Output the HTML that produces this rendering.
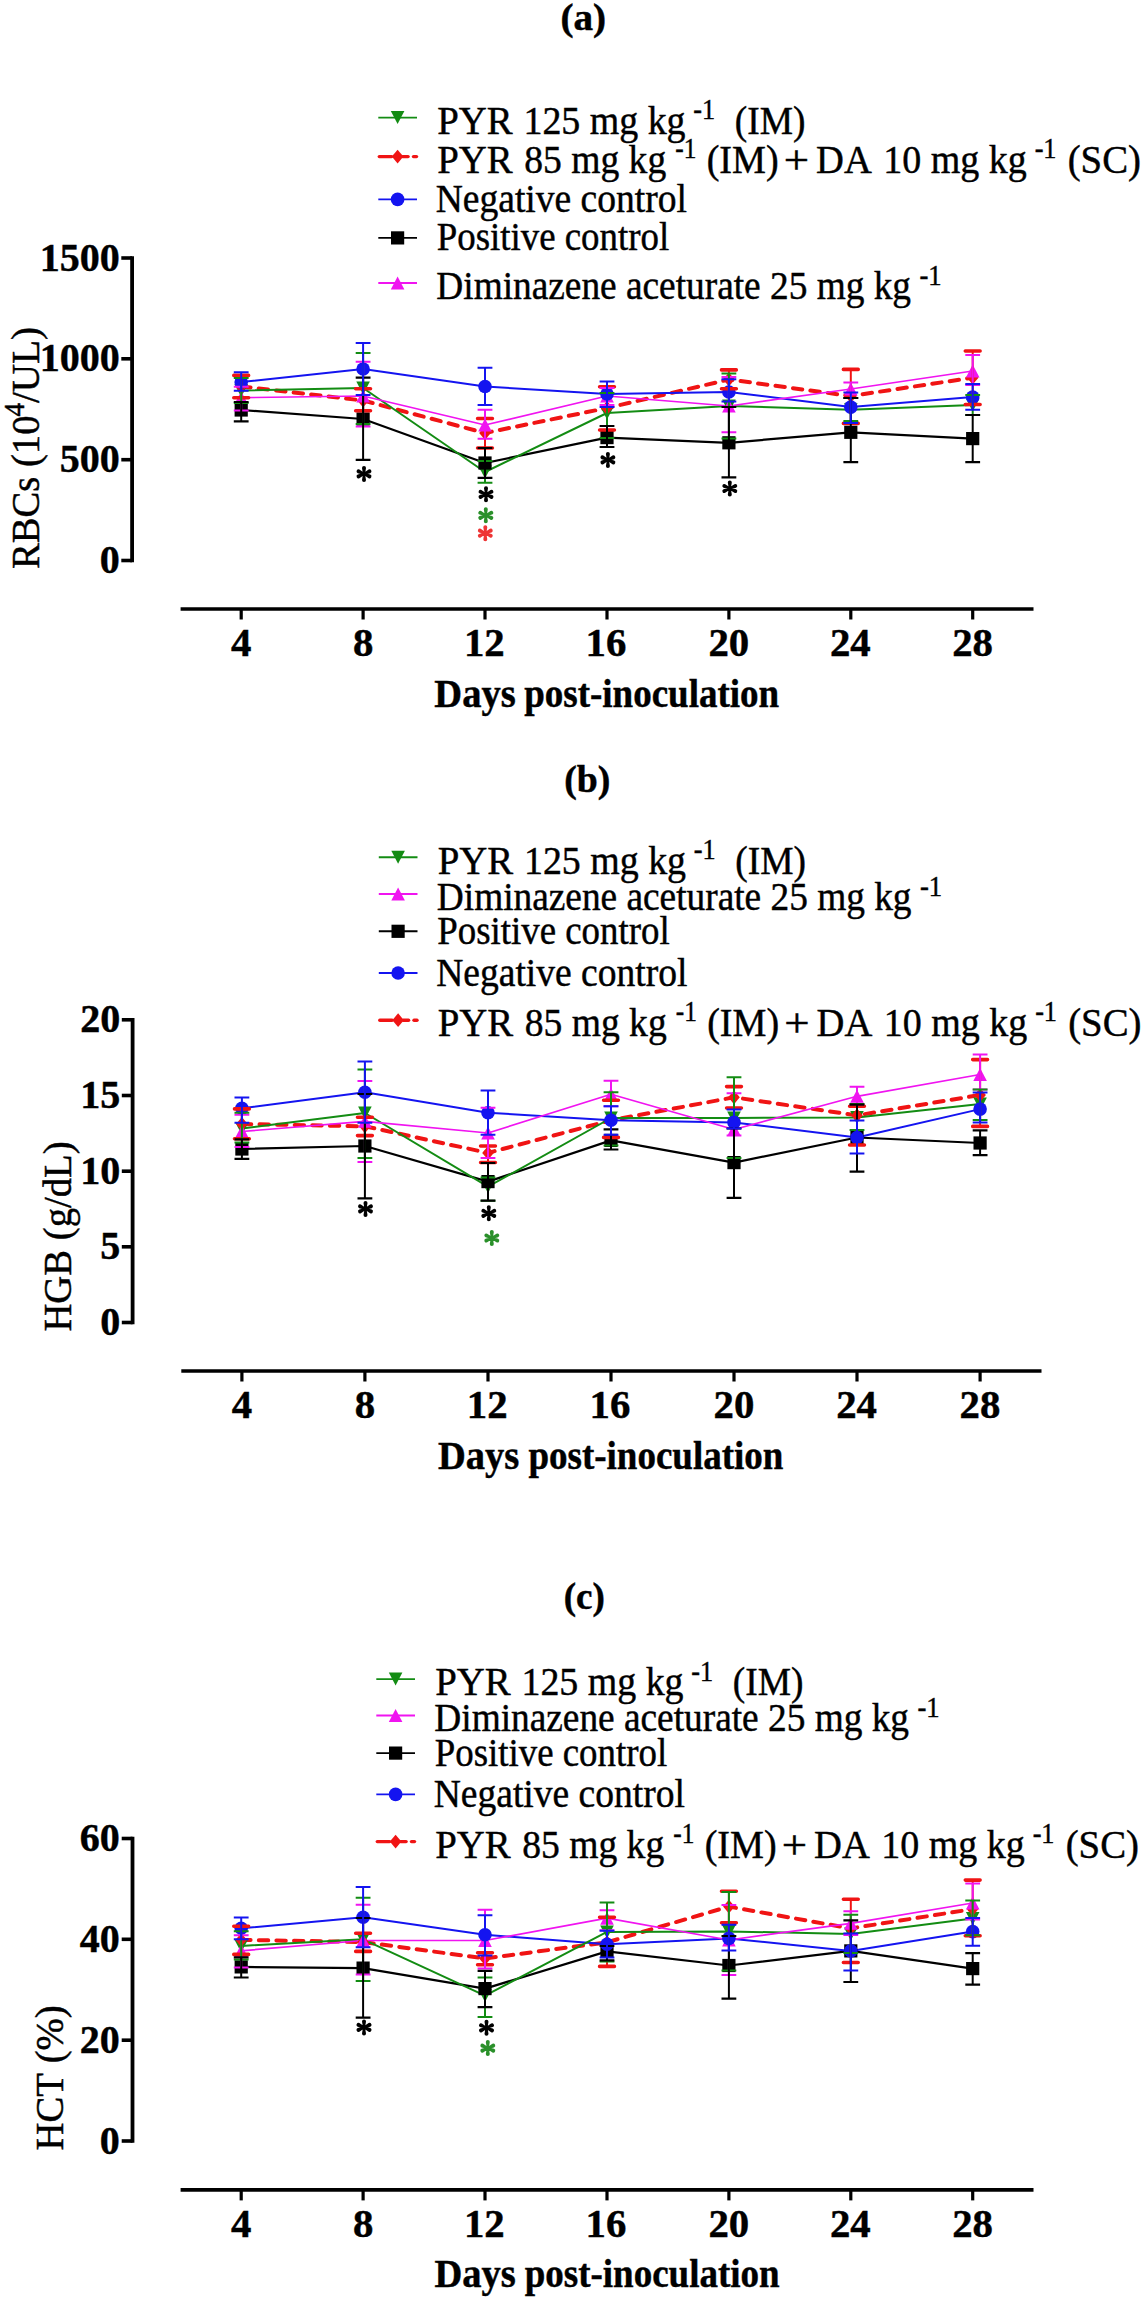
<!DOCTYPE html><html><head><meta charset="utf-8"><title>Hematology charts</title><style>html,body{margin:0;padding:0;background:#fff;overflow:hidden;}svg{display:block;}text{font-family:"Liberation Serif", serif;fill:#000;font-kerning:none;stroke:#000;stroke-width:0.45px;}</style></head><body>
<svg width="1144" height="2300" viewBox="0 0 1144 2300">
<rect width="1144" height="2300" fill="#fff"/>
<line x1="132.1" y1="256.3" x2="132.1" y2="562.2" stroke="#000" stroke-width="3.8"/>
<line x1="121.3" y1="258.0" x2="132.1" y2="258.0" stroke="#000" stroke-width="3.6"/>
<text x="39.72" y="270.60" font-size="40.0" font-weight="bold">1500</text>
<line x1="121.3" y1="358.8" x2="132.1" y2="358.8" stroke="#000" stroke-width="3.6"/>
<text x="39.72" y="371.40" font-size="40.0" font-weight="bold">1000</text>
<line x1="121.3" y1="459.7" x2="132.1" y2="459.7" stroke="#000" stroke-width="3.6"/>
<text x="59.72" y="472.30" font-size="40.0" font-weight="bold">500</text>
<line x1="121.3" y1="560.5" x2="132.1" y2="560.5" stroke="#000" stroke-width="3.6"/>
<text x="99.72" y="573.10" font-size="40.0" font-weight="bold">0</text>
<line x1="180.6" y1="609" x2="1033.5" y2="609" stroke="#000" stroke-width="3.6"/>
<line x1="241.2" y1="609" x2="241.2" y2="619.5" stroke="#000" stroke-width="3.2"/>
<text x="231.10" y="656.00" font-size="40.8" font-weight="bold">4</text>
<line x1="363.1" y1="609" x2="363.1" y2="619.5" stroke="#000" stroke-width="3.2"/>
<text x="352.92" y="656.00" font-size="40.8" font-weight="bold">8</text>
<line x1="485.0" y1="609" x2="485.0" y2="619.5" stroke="#000" stroke-width="3.2"/>
<text x="463.88" y="656.00" font-size="40.8" font-weight="bold">12</text>
<line x1="607.0" y1="609" x2="607.0" y2="619.5" stroke="#000" stroke-width="3.2"/>
<text x="585.52" y="656.00" font-size="40.8" font-weight="bold">16</text>
<line x1="728.9" y1="609" x2="728.9" y2="619.5" stroke="#000" stroke-width="3.2"/>
<text x="708.40" y="656.00" font-size="40.8" font-weight="bold">20</text>
<line x1="850.8" y1="609" x2="850.8" y2="619.5" stroke="#000" stroke-width="3.2"/>
<text x="829.92" y="656.00" font-size="40.8" font-weight="bold">24</text>
<line x1="972.7" y1="609" x2="972.7" y2="619.5" stroke="#000" stroke-width="3.2"/>
<text x="952.14" y="656.00" font-size="40.8" font-weight="bold">28</text>
<text x="434.32" y="706.80" font-size="40.0" font-weight="bold" textLength="81.32" lengthAdjust="spacingAndGlyphs">Days</text>
<text x="524.23" y="706.80" font-size="40.0" font-weight="bold" textLength="254.93" lengthAdjust="spacingAndGlyphs">post-inoculation</text>
<text x="560.48" y="30.40" font-size="38.0" font-weight="bold" textLength="45.64" lengthAdjust="spacingAndGlyphs">(a)</text>
<g transform="translate(39.20,568.00) rotate(-90)">
<text x="-1.11" y="0.00" font-size="40.3" textLength="153.59" lengthAdjust="spacingAndGlyphs">RBCs (10</text>
<text x="151.47" y="-15.30" font-size="29" textLength="13.55" lengthAdjust="spacingAndGlyphs">4</text>
<text x="165.00" y="0.00" font-size="40.3" textLength="76.02" lengthAdjust="spacingAndGlyphs">/UL)</text>
</g>
<line x1="378.3" y1="117.6" x2="417.0" y2="117.6" stroke="#138c13" stroke-width="1.9"/>
<path d="M390.8,111.1 L404.4,111.1 L397.6,124.1 Z" fill="#138c13"/>
<text x="437.18" y="133.60" font-size="40.3" textLength="75.47" lengthAdjust="spacingAndGlyphs">PYR</text>
<text x="523.47" y="133.60" font-size="40.3" textLength="162.05" lengthAdjust="spacingAndGlyphs">125 mg kg</text>
<text x="693.23" y="118.80" font-size="29" textLength="21.85" lengthAdjust="spacingAndGlyphs">-1</text>
<text x="734.86" y="133.60" font-size="40.3" textLength="70.59" lengthAdjust="spacingAndGlyphs">(IM)</text>
<line x1="379.3" y1="156.6" x2="391.6" y2="156.6" stroke="#f01414" stroke-width="3.4" stroke-linecap="round"/>
<line x1="402.6" y1="156.6" x2="408.1" y2="156.6" stroke="#f01414" stroke-width="3.4" stroke-linecap="round"/>
<line x1="413.5" y1="156.6" x2="416.5" y2="156.6" stroke="#f01414" stroke-width="3.4" stroke-linecap="round"/>
<path d="M397.6,149.7 L403.4,156.6 L397.6,163.5 L391.8,156.6 Z" fill="#f01414"/>
<text x="437.18" y="173.00" font-size="40.3" textLength="75.47" lengthAdjust="spacingAndGlyphs">PYR</text>
<text x="524.17" y="173.00" font-size="40.3" textLength="142.05" lengthAdjust="spacingAndGlyphs">85 mg kg</text>
<text x="675.26" y="158.20" font-size="29" textLength="21.06" lengthAdjust="spacingAndGlyphs">-1</text>
<text x="706.63" y="173.00" font-size="40.3" textLength="71.95" lengthAdjust="spacingAndGlyphs">(IM)</text>
<text x="783.86" y="173.00" font-size="40.3" textLength="25.33" lengthAdjust="spacingAndGlyphs">+</text>
<text x="816.09" y="173.00" font-size="40.3" textLength="55.69" lengthAdjust="spacingAndGlyphs">DA</text>
<text x="883.26" y="173.00" font-size="40.3" textLength="143.46" lengthAdjust="spacingAndGlyphs">10 mg kg</text>
<text x="1034.63" y="158.20" font-size="29" textLength="21.85" lengthAdjust="spacingAndGlyphs">-1</text>
<text x="1067.69" y="173.00" font-size="40.3" textLength="73.31" lengthAdjust="spacingAndGlyphs">(SC)</text>
<line x1="378.3" y1="199.4" x2="417.0" y2="199.4" stroke="#1414f0" stroke-width="1.9"/>
<circle cx="397.6" cy="199.4" r="6.8" fill="#1414f0"/>
<text x="435.72" y="212.10" font-size="40.3" textLength="251.13" lengthAdjust="spacingAndGlyphs">Negative control</text>
<line x1="378.3" y1="237.9" x2="417.0" y2="237.9" stroke="#000000" stroke-width="1.9"/>
<rect x="391.0" y="231.3" width="13.2" height="13.2" fill="#000000"/>
<text x="436.84" y="250.00" font-size="40.3" textLength="232.30" lengthAdjust="spacingAndGlyphs">Positive control</text>
<line x1="378.3" y1="283.0" x2="417.0" y2="283.0" stroke="#f014f0" stroke-width="1.9"/>
<path d="M390.8,289.5 L404.4,289.5 L397.6,276.5 Z" fill="#f014f0"/>
<text x="436.32" y="299.30" font-size="40.3" textLength="474.69" lengthAdjust="spacingAndGlyphs">Diminazene aceturate 25 mg kg</text>
<text x="919.51" y="284.50" font-size="29" textLength="22.19" lengthAdjust="spacingAndGlyphs">-1</text>
<polyline points="241.2,386.5 363.1,400.5 485.0,433.0 607.0,408.0 728.9,379.5 850.8,396.0 972.7,377.7" fill="none" stroke="#f01414" stroke-width="4.0" stroke-linejoin="round" stroke-dasharray="9.4 8.2" stroke-linecap="round"/>
<polyline points="241.2,410.0 363.1,419.0 485.0,463.0 607.0,437.6 728.9,442.8 850.8,432.3 972.7,438.6" fill="none" stroke="#000000" stroke-width="2.2" stroke-linejoin="round"/>
<polyline points="241.2,382.0 363.1,369.0 485.0,386.5 607.0,394.0 728.9,392.0 850.8,407.1 972.7,397.1" fill="none" stroke="#1414f0" stroke-width="2.0" stroke-linejoin="round"/>
<polyline points="241.2,390.5 363.1,388.0 485.0,472.0 607.0,413.0 728.9,406.0 850.8,409.8 972.7,405.0" fill="none" stroke="#138c13" stroke-width="2.0" stroke-linejoin="round"/>
<polyline points="241.2,397.7 363.1,396.0 485.0,425.0 607.0,396.0 728.9,406.0 850.8,389.0 972.7,371.0" fill="none" stroke="#f014f0" stroke-width="1.7" stroke-linejoin="round"/>
<path d="M234.4,384.0 L248.0,384.0 L241.2,397.0 Z" fill="#138c13"/>
<path d="M356.3,381.5 L369.9,381.5 L363.1,394.5 Z" fill="#138c13"/>
<path d="M478.2,465.5 L491.8,465.5 L485.0,478.5 Z" fill="#138c13"/>
<path d="M600.2,406.5 L613.8,406.5 L607.0,419.5 Z" fill="#138c13"/>
<path d="M722.1,399.5 L735.7,399.5 L728.9,412.5 Z" fill="#138c13"/>
<path d="M844.0,403.3 L857.6,403.3 L850.8,416.3 Z" fill="#138c13"/>
<path d="M965.9,398.5 L979.5,398.5 L972.7,411.5 Z" fill="#138c13"/>
<path d="M241.2,379.6 L247.0,386.5 L241.2,393.4 L235.4,386.5 Z" fill="#f01414"/>
<path d="M363.1,393.6 L368.9,400.5 L363.1,407.4 L357.3,400.5 Z" fill="#f01414"/>
<path d="M485.0,426.1 L490.8,433.0 L485.0,439.9 L479.2,433.0 Z" fill="#f01414"/>
<path d="M607.0,401.1 L612.8,408.0 L607.0,414.9 L601.2,408.0 Z" fill="#f01414"/>
<path d="M728.9,372.6 L734.7,379.5 L728.9,386.4 L723.1,379.5 Z" fill="#f01414"/>
<path d="M850.8,389.1 L856.6,396.0 L850.8,402.9 L845.0,396.0 Z" fill="#f01414"/>
<path d="M972.7,370.8 L978.5,377.7 L972.7,384.6 L966.9,377.7 Z" fill="#f01414"/>
<path d="M234.4,404.2 L248.0,404.2 L241.2,391.2 Z" fill="#f014f0"/>
<path d="M356.3,402.5 L369.9,402.5 L363.1,389.5 Z" fill="#f014f0"/>
<path d="M478.2,431.5 L491.8,431.5 L485.0,418.5 Z" fill="#f014f0"/>
<path d="M600.2,402.5 L613.8,402.5 L607.0,389.5 Z" fill="#f014f0"/>
<path d="M722.1,412.5 L735.7,412.5 L728.9,399.5 Z" fill="#f014f0"/>
<path d="M844.0,395.5 L857.6,395.5 L850.8,382.5 Z" fill="#f014f0"/>
<path d="M965.9,377.5 L979.5,377.5 L972.7,364.5 Z" fill="#f014f0"/>
<rect x="234.6" y="403.4" width="13.2" height="13.2" fill="#000000"/>
<rect x="356.5" y="412.4" width="13.2" height="13.2" fill="#000000"/>
<rect x="478.4" y="456.4" width="13.2" height="13.2" fill="#000000"/>
<rect x="600.4" y="431.0" width="13.2" height="13.2" fill="#000000"/>
<rect x="722.3" y="436.2" width="13.2" height="13.2" fill="#000000"/>
<rect x="844.2" y="425.7" width="13.2" height="13.2" fill="#000000"/>
<rect x="966.1" y="432.0" width="13.2" height="13.2" fill="#000000"/>
<circle cx="241.2" cy="382.0" r="6.8" fill="#1414f0"/>
<circle cx="363.1" cy="369.0" r="6.8" fill="#1414f0"/>
<circle cx="485.0" cy="386.5" r="6.8" fill="#1414f0"/>
<circle cx="607.0" cy="394.0" r="6.8" fill="#1414f0"/>
<circle cx="728.9" cy="392.0" r="6.8" fill="#1414f0"/>
<circle cx="850.8" cy="407.1" r="6.8" fill="#1414f0"/>
<circle cx="972.7" cy="397.1" r="6.8" fill="#1414f0"/>
<path d="M241.2,375.4V397.7" stroke="#f01414" stroke-width="2"/>
<path d="M233.8,375.4h14.8M233.8,397.7h14.8" stroke="#f01414" stroke-width="3.6" stroke-linecap="round"/>
<path d="M363.1,388.7V410.8" stroke="#f01414" stroke-width="2"/>
<path d="M355.7,388.7h14.8M355.7,410.8h14.8" stroke="#f01414" stroke-width="3.6" stroke-linecap="round"/>
<path d="M485.0,418.5V448.0" stroke="#f01414" stroke-width="2"/>
<path d="M477.6,418.5h14.8M477.6,448.0h14.8" stroke="#f01414" stroke-width="3.6" stroke-linecap="round"/>
<path d="M607.0,386.7V430.0" stroke="#f01414" stroke-width="2"/>
<path d="M599.6,386.7h14.8M599.6,430.0h14.8" stroke="#f01414" stroke-width="3.6" stroke-linecap="round"/>
<path d="M728.9,369.9V388.8" stroke="#f01414" stroke-width="2"/>
<path d="M721.5,369.9h14.8M721.5,388.8h14.8" stroke="#f01414" stroke-width="3.6" stroke-linecap="round"/>
<path d="M850.8,369.4V423.4" stroke="#f01414" stroke-width="2"/>
<path d="M843.4,369.4h14.8M843.4,423.4h14.8" stroke="#f01414" stroke-width="3.6" stroke-linecap="round"/>
<path d="M972.7,351.0V404.5" stroke="#f01414" stroke-width="2"/>
<path d="M965.3,351.0h14.8M965.3,404.5h14.8" stroke="#f01414" stroke-width="3.6" stroke-linecap="round"/>
<path d="M241.2,386.8V410.4" stroke="#f014f0" stroke-width="2"/>
<path d="M233.8,386.8h14.8M233.8,410.4h14.8" stroke="#f014f0" stroke-width="2.0"/>
<path d="M363.1,361.7V426.6" stroke="#f014f0" stroke-width="2"/>
<path d="M355.7,361.7h14.8M355.7,426.6h14.8" stroke="#f014f0" stroke-width="2.0"/>
<path d="M485.0,409.8V438.7" stroke="#f014f0" stroke-width="2"/>
<path d="M477.6,409.8h14.8M477.6,438.7h14.8" stroke="#f014f0" stroke-width="2.0"/>
<path d="M607.0,388.0V405.0" stroke="#f014f0" stroke-width="2"/>
<path d="M599.6,388.0h14.8M599.6,405.0h14.8" stroke="#f014f0" stroke-width="2.0"/>
<path d="M728.9,377.0V432.3" stroke="#f014f0" stroke-width="2"/>
<path d="M721.5,377.0h14.8M721.5,432.3h14.8" stroke="#f014f0" stroke-width="2.0"/>
<path d="M850.8,382.5V398.0" stroke="#f014f0" stroke-width="2"/>
<path d="M843.4,382.5h14.8M843.4,398.0h14.8" stroke="#f014f0" stroke-width="2.0"/>
<path d="M972.7,355.0V385.0" stroke="#f014f0" stroke-width="2"/>
<path d="M965.3,355.0h14.8M965.3,385.0h14.8" stroke="#f014f0" stroke-width="2.0"/>
<path d="M241.2,378.0V403.0" stroke="#138c13" stroke-width="2"/>
<path d="M233.8,378.0h14.8M233.8,403.0h14.8" stroke="#138c13" stroke-width="2.0"/>
<path d="M363.1,353.0V424.0" stroke="#138c13" stroke-width="2"/>
<path d="M355.7,353.0h14.8M355.7,424.0h14.8" stroke="#138c13" stroke-width="2.0"/>
<path d="M485.0,461.0V482.7" stroke="#138c13" stroke-width="2"/>
<path d="M477.6,461.0h14.8M477.6,482.7h14.8" stroke="#138c13" stroke-width="2.0"/>
<path d="M607.0,393.0V438.0" stroke="#138c13" stroke-width="2"/>
<path d="M599.6,393.0h14.8M599.6,438.0h14.8" stroke="#138c13" stroke-width="2.0"/>
<path d="M728.9,373.4V438.6" stroke="#138c13" stroke-width="2"/>
<path d="M721.5,373.4h14.8M721.5,438.6h14.8" stroke="#138c13" stroke-width="2.0"/>
<path d="M850.8,398.0V421.0" stroke="#138c13" stroke-width="2"/>
<path d="M843.4,398.0h14.8M843.4,421.0h14.8" stroke="#138c13" stroke-width="2.0"/>
<path d="M972.7,395.0V415.0" stroke="#138c13" stroke-width="2"/>
<path d="M965.3,395.0h14.8M965.3,415.0h14.8" stroke="#138c13" stroke-width="2.0"/>
<path d="M241.2,402.0V421.3" stroke="#000000" stroke-width="2"/>
<path d="M233.8,402.0h14.8M233.8,421.3h14.8" stroke="#000000" stroke-width="2.2"/>
<path d="M363.1,377.6V459.8" stroke="#000000" stroke-width="2"/>
<path d="M355.7,377.6h14.8M355.7,459.8h14.8" stroke="#000000" stroke-width="2.2"/>
<path d="M485.0,448.0V477.9" stroke="#000000" stroke-width="2"/>
<path d="M477.6,448.0h14.8M477.6,477.9h14.8" stroke="#000000" stroke-width="2.2"/>
<path d="M607.0,426.0V447.0" stroke="#000000" stroke-width="2"/>
<path d="M599.6,426.0h14.8M599.6,447.0h14.8" stroke="#000000" stroke-width="2.2"/>
<path d="M728.9,407.0V477.4" stroke="#000000" stroke-width="2"/>
<path d="M721.5,407.0h14.8M721.5,477.4h14.8" stroke="#000000" stroke-width="2.2"/>
<path d="M850.8,398.0V462.2" stroke="#000000" stroke-width="2"/>
<path d="M843.4,398.0h14.8M843.4,462.2h14.8" stroke="#000000" stroke-width="2.2"/>
<path d="M972.7,415.0V462.2" stroke="#000000" stroke-width="2"/>
<path d="M965.3,415.0h14.8M965.3,462.2h14.8" stroke="#000000" stroke-width="2.2"/>
<path d="M241.2,372.3V390.7" stroke="#1414f0" stroke-width="2"/>
<path d="M233.8,372.3h14.8M233.8,390.7h14.8" stroke="#1414f0" stroke-width="2.0"/>
<path d="M363.1,343.0V394.9" stroke="#1414f0" stroke-width="2"/>
<path d="M355.7,343.0h14.8M355.7,394.9h14.8" stroke="#1414f0" stroke-width="2.0"/>
<path d="M485.0,367.8V405.0" stroke="#1414f0" stroke-width="2"/>
<path d="M477.6,367.8h14.8M477.6,405.0h14.8" stroke="#1414f0" stroke-width="2.0"/>
<path d="M607.0,381.4V407.1" stroke="#1414f0" stroke-width="2"/>
<path d="M599.6,381.4h14.8M599.6,407.1h14.8" stroke="#1414f0" stroke-width="2.0"/>
<path d="M728.9,379.3V401.4" stroke="#1414f0" stroke-width="2"/>
<path d="M721.5,379.3h14.8M721.5,401.4h14.8" stroke="#1414f0" stroke-width="2.0"/>
<path d="M850.8,392.4V422.9" stroke="#1414f0" stroke-width="2"/>
<path d="M843.4,392.4h14.8M843.4,422.9h14.8" stroke="#1414f0" stroke-width="2.0"/>
<path d="M972.7,384.0V409.7" stroke="#1414f0" stroke-width="2"/>
<path d="M965.3,384.0h14.8M965.3,409.7h14.8" stroke="#1414f0" stroke-width="2.0"/>
<path d="M365.00,473.90L366.00,467.90A2.0,2.0 0 1 0 362.00,467.90L363.00,473.90ZM363.00,473.90L362.00,479.90A2.0,2.0 0 1 0 366.00,479.90L365.00,473.90ZM364.42,474.81L370.28,473.18A2.0,2.0 0 1 0 368.59,469.55L363.58,472.99ZM364.42,472.99L359.41,469.55A2.0,2.0 0 1 0 357.72,473.18L363.58,474.81ZM363.58,474.81L368.59,478.25A2.0,2.0 0 1 0 370.28,474.62L364.42,472.99ZM363.58,472.99L357.72,474.62A2.0,2.0 0 1 0 359.41,478.25L364.42,474.81Z" fill="#000"/>
<path d="M487.00,494.30L488.00,488.30A2.0,2.0 0 1 0 484.00,488.30L485.00,494.30ZM485.00,494.30L484.00,500.30A2.0,2.0 0 1 0 488.00,500.30L487.00,494.30ZM486.42,495.21L492.28,493.58A2.0,2.0 0 1 0 490.59,489.95L485.58,493.39ZM486.42,493.39L481.41,489.95A2.0,2.0 0 1 0 479.72,493.58L485.58,495.21ZM485.58,495.21L490.59,498.65A2.0,2.0 0 1 0 492.28,495.02L486.42,493.39ZM485.58,493.39L479.72,495.02A2.0,2.0 0 1 0 481.41,498.65L486.42,495.21Z" fill="#000"/>
<path d="M608.90,459.90L609.90,453.90A2.0,2.0 0 1 0 605.90,453.90L606.90,459.90ZM606.90,459.90L605.90,465.90A2.0,2.0 0 1 0 609.90,465.90L608.90,459.90ZM608.32,460.81L614.18,459.18A2.0,2.0 0 1 0 612.49,455.55L607.48,458.99ZM608.32,458.99L603.31,455.55A2.0,2.0 0 1 0 601.62,459.18L607.48,460.81ZM607.48,460.81L612.49,464.25A2.0,2.0 0 1 0 614.18,460.62L608.32,458.99ZM607.48,458.99L601.62,460.62A2.0,2.0 0 1 0 603.31,464.25L608.32,460.81Z" fill="#000"/>
<path d="M730.80,488.50L731.80,482.50A2.0,2.0 0 1 0 727.80,482.50L728.80,488.50ZM728.80,488.50L727.80,494.50A2.0,2.0 0 1 0 731.80,494.50L730.80,488.50ZM730.22,489.41L736.08,487.78A2.0,2.0 0 1 0 734.39,484.15L729.38,487.59ZM730.22,487.59L725.21,484.15A2.0,2.0 0 1 0 723.52,487.78L729.38,489.41ZM729.38,489.41L734.39,492.85A2.0,2.0 0 1 0 736.08,489.22L730.22,487.59ZM729.38,487.59L723.52,489.22A2.0,2.0 0 1 0 725.21,492.85L730.22,489.41Z" fill="#000"/>
<path d="M486.80,515.30L487.80,509.30A2.0,2.0 0 1 0 483.80,509.30L484.80,515.30ZM484.80,515.30L483.80,521.30A2.0,2.0 0 1 0 487.80,521.30L486.80,515.30ZM486.22,516.21L492.08,514.58A2.0,2.0 0 1 0 490.39,510.95L485.38,514.39ZM486.22,514.39L481.21,510.95A2.0,2.0 0 1 0 479.52,514.58L485.38,516.21ZM485.38,516.21L490.39,519.65A2.0,2.0 0 1 0 492.08,516.02L486.22,514.39ZM485.38,514.39L479.52,516.02A2.0,2.0 0 1 0 481.21,519.65L486.22,516.21Z" fill="#2a902a"/>
<path d="M486.30,533.20L487.30,527.20A2.0,2.0 0 1 0 483.30,527.20L484.30,533.20ZM484.30,533.20L483.30,539.20A2.0,2.0 0 1 0 487.30,539.20L486.30,533.20ZM485.72,534.11L491.58,532.48A2.0,2.0 0 1 0 489.89,528.85L484.88,532.29ZM485.72,532.29L480.71,528.85A2.0,2.0 0 1 0 479.02,532.48L484.88,534.11ZM484.88,534.11L489.89,537.55A2.0,2.0 0 1 0 491.58,533.92L485.72,532.29ZM484.88,532.29L479.02,533.92A2.0,2.0 0 1 0 480.71,537.55L485.72,534.11Z" fill="#ee3535"/>
<line x1="132.6" y1="1018.1" x2="132.6" y2="1324.2" stroke="#000" stroke-width="3.8"/>
<line x1="121.8" y1="1019.8" x2="132.6" y2="1019.8" stroke="#000" stroke-width="3.6"/>
<text x="80.32" y="1032.40" font-size="40.0" font-weight="bold">20</text>
<line x1="121.8" y1="1095.5" x2="132.6" y2="1095.5" stroke="#000" stroke-width="3.6"/>
<text x="80.26" y="1108.10" font-size="40.0" font-weight="bold">15</text>
<line x1="121.8" y1="1171.2" x2="132.6" y2="1171.2" stroke="#000" stroke-width="3.6"/>
<text x="80.32" y="1183.80" font-size="40.0" font-weight="bold">10</text>
<line x1="121.8" y1="1246.8" x2="132.6" y2="1246.8" stroke="#000" stroke-width="3.6"/>
<text x="100.26" y="1259.40" font-size="40.0" font-weight="bold">5</text>
<line x1="121.8" y1="1322.5" x2="132.6" y2="1322.5" stroke="#000" stroke-width="3.6"/>
<text x="100.32" y="1335.10" font-size="40.0" font-weight="bold">0</text>
<line x1="181.3" y1="1371" x2="1041.5" y2="1371" stroke="#000" stroke-width="3.6"/>
<line x1="241.9" y1="1371" x2="241.9" y2="1381.5" stroke="#000" stroke-width="3.2"/>
<text x="231.80" y="1418.00" font-size="40.8" font-weight="bold">4</text>
<line x1="364.9" y1="1371" x2="364.9" y2="1381.5" stroke="#000" stroke-width="3.2"/>
<text x="354.73" y="1418.00" font-size="40.8" font-weight="bold">8</text>
<line x1="488.0" y1="1371" x2="488.0" y2="1381.5" stroke="#000" stroke-width="3.2"/>
<text x="466.80" y="1418.00" font-size="40.8" font-weight="bold">12</text>
<line x1="611.0" y1="1371" x2="611.0" y2="1381.5" stroke="#000" stroke-width="3.2"/>
<text x="589.55" y="1418.00" font-size="40.8" font-weight="bold">16</text>
<line x1="734.0" y1="1371" x2="734.0" y2="1381.5" stroke="#000" stroke-width="3.2"/>
<text x="713.54" y="1418.00" font-size="40.8" font-weight="bold">20</text>
<line x1="857.0" y1="1371" x2="857.0" y2="1381.5" stroke="#000" stroke-width="3.2"/>
<text x="836.17" y="1418.00" font-size="40.8" font-weight="bold">24</text>
<line x1="980.1" y1="1371" x2="980.1" y2="1381.5" stroke="#000" stroke-width="3.2"/>
<text x="959.50" y="1418.00" font-size="40.8" font-weight="bold">28</text>
<text x="437.92" y="1468.60" font-size="40.0" font-weight="bold" textLength="81.32" lengthAdjust="spacingAndGlyphs">Days</text>
<text x="528.43" y="1468.60" font-size="40.0" font-weight="bold" textLength="254.93" lengthAdjust="spacingAndGlyphs">post-inoculation</text>
<text x="564.24" y="791.50" font-size="38.0" font-weight="bold" textLength="46.12" lengthAdjust="spacingAndGlyphs">(b)</text>
<g transform="translate(70.80,1330.50) rotate(-90)">
<text x="-1.11" y="0.00" font-size="40.5" textLength="190.22" lengthAdjust="spacingAndGlyphs">HGB (g/dL)</text>
</g>
<line x1="378.8" y1="857.2" x2="417.5" y2="857.2" stroke="#138c13" stroke-width="1.9"/>
<path d="M391.3,850.7 L404.9,850.7 L398.1,863.7 Z" fill="#138c13"/>
<text x="437.68" y="873.80" font-size="40.3" textLength="75.47" lengthAdjust="spacingAndGlyphs">PYR</text>
<text x="523.97" y="873.80" font-size="40.3" textLength="162.05" lengthAdjust="spacingAndGlyphs">125 mg kg</text>
<text x="693.73" y="859.00" font-size="29" textLength="21.85" lengthAdjust="spacingAndGlyphs">-1</text>
<text x="735.36" y="873.80" font-size="40.3" textLength="70.59" lengthAdjust="spacingAndGlyphs">(IM)</text>
<line x1="378.8" y1="894" x2="417.5" y2="894" stroke="#f014f0" stroke-width="1.9"/>
<path d="M391.3,900.5 L404.9,900.5 L398.1,887.5 Z" fill="#f014f0"/>
<text x="436.82" y="910.30" font-size="40.3" textLength="474.69" lengthAdjust="spacingAndGlyphs">Diminazene aceturate 25 mg kg</text>
<text x="920.01" y="895.50" font-size="29" textLength="22.19" lengthAdjust="spacingAndGlyphs">-1</text>
<line x1="378.8" y1="931.3" x2="417.5" y2="931.3" stroke="#000000" stroke-width="1.9"/>
<rect x="391.5" y="924.7" width="13.2" height="13.2" fill="#000000"/>
<text x="437.34" y="944.10" font-size="40.3" textLength="232.30" lengthAdjust="spacingAndGlyphs">Positive control</text>
<line x1="378.8" y1="973" x2="417.5" y2="973" stroke="#1414f0" stroke-width="1.9"/>
<circle cx="398.1" cy="973.0" r="6.8" fill="#1414f0"/>
<text x="436.22" y="985.60" font-size="40.3" textLength="251.13" lengthAdjust="spacingAndGlyphs">Negative control</text>
<line x1="379.8" y1="1020.2" x2="392.1" y2="1020.2" stroke="#f01414" stroke-width="3.4" stroke-linecap="round"/>
<line x1="403.1" y1="1020.2" x2="408.6" y2="1020.2" stroke="#f01414" stroke-width="3.4" stroke-linecap="round"/>
<line x1="414.0" y1="1020.2" x2="417.0" y2="1020.2" stroke="#f01414" stroke-width="3.4" stroke-linecap="round"/>
<path d="M398.1,1013.3 L403.9,1020.2 L398.1,1027.1 L392.3,1020.2 Z" fill="#f01414"/>
<text x="437.68" y="1035.70" font-size="40.3" textLength="75.47" lengthAdjust="spacingAndGlyphs">PYR</text>
<text x="524.67" y="1035.70" font-size="40.3" textLength="142.05" lengthAdjust="spacingAndGlyphs">85 mg kg</text>
<text x="675.76" y="1020.90" font-size="29" textLength="21.06" lengthAdjust="spacingAndGlyphs">-1</text>
<text x="707.13" y="1035.70" font-size="40.3" textLength="71.95" lengthAdjust="spacingAndGlyphs">(IM)</text>
<text x="784.36" y="1035.70" font-size="40.3" textLength="25.33" lengthAdjust="spacingAndGlyphs">+</text>
<text x="816.59" y="1035.70" font-size="40.3" textLength="55.69" lengthAdjust="spacingAndGlyphs">DA</text>
<text x="883.76" y="1035.70" font-size="40.3" textLength="143.46" lengthAdjust="spacingAndGlyphs">10 mg kg</text>
<text x="1035.13" y="1020.90" font-size="29" textLength="21.85" lengthAdjust="spacingAndGlyphs">-1</text>
<text x="1068.19" y="1035.70" font-size="40.3" textLength="73.31" lengthAdjust="spacingAndGlyphs">(SC)</text>
<polyline points="241.9,1124.0 364.9,1126.3 488.0,1152.9 611.0,1120.3 734.0,1097.3 857.0,1115.4 980.1,1095.0" fill="none" stroke="#f01414" stroke-width="4.0" stroke-linejoin="round" stroke-dasharray="9.4 8.2" stroke-linecap="round"/>
<polyline points="241.9,1149.0 364.9,1146.0 488.0,1181.6 611.0,1140.4 734.0,1162.6 857.0,1137.5 980.1,1143.0" fill="none" stroke="#000000" stroke-width="2.2" stroke-linejoin="round"/>
<polyline points="241.9,1108.3 364.9,1092.2 488.0,1112.7 611.0,1120.3 734.0,1122.4 857.0,1137.5 980.1,1109.1" fill="none" stroke="#1414f0" stroke-width="2.0" stroke-linejoin="round"/>
<polyline points="241.9,1128.4 364.9,1113.0 488.0,1186.7 611.0,1118.0 734.0,1118.0 857.0,1117.4 980.1,1104.0" fill="none" stroke="#138c13" stroke-width="2.0" stroke-linejoin="round"/>
<polyline points="241.9,1131.5 364.9,1121.3 488.0,1133.0 611.0,1094.2 734.0,1129.5 857.0,1096.3 980.1,1074.5" fill="none" stroke="#f014f0" stroke-width="1.7" stroke-linejoin="round"/>
<path d="M235.1,1121.9 L248.7,1121.9 L241.9,1134.9 Z" fill="#138c13"/>
<path d="M358.1,1106.5 L371.7,1106.5 L364.9,1119.5 Z" fill="#138c13"/>
<path d="M481.2,1180.2 L494.8,1180.2 L488.0,1193.2 Z" fill="#138c13"/>
<path d="M604.2,1111.5 L617.8,1111.5 L611.0,1124.5 Z" fill="#138c13"/>
<path d="M727.2,1111.5 L740.8,1111.5 L734.0,1124.5 Z" fill="#138c13"/>
<path d="M850.2,1110.9 L863.8,1110.9 L857.0,1123.9 Z" fill="#138c13"/>
<path d="M973.3,1097.5 L986.9,1097.5 L980.1,1110.5 Z" fill="#138c13"/>
<path d="M241.9,1117.1 L247.7,1124.0 L241.9,1130.9 L236.1,1124.0 Z" fill="#f01414"/>
<path d="M364.9,1119.4 L370.7,1126.3 L364.9,1133.2 L359.1,1126.3 Z" fill="#f01414"/>
<path d="M488.0,1146.0 L493.8,1152.9 L488.0,1159.8 L482.2,1152.9 Z" fill="#f01414"/>
<path d="M611.0,1113.4 L616.8,1120.3 L611.0,1127.2 L605.2,1120.3 Z" fill="#f01414"/>
<path d="M734.0,1090.4 L739.8,1097.3 L734.0,1104.2 L728.2,1097.3 Z" fill="#f01414"/>
<path d="M857.0,1108.5 L862.8,1115.4 L857.0,1122.3 L851.2,1115.4 Z" fill="#f01414"/>
<path d="M980.1,1088.1 L985.9,1095.0 L980.1,1101.9 L974.3,1095.0 Z" fill="#f01414"/>
<path d="M235.1,1138.0 L248.7,1138.0 L241.9,1125.0 Z" fill="#f014f0"/>
<path d="M358.1,1127.8 L371.7,1127.8 L364.9,1114.8 Z" fill="#f014f0"/>
<path d="M481.2,1139.5 L494.8,1139.5 L488.0,1126.5 Z" fill="#f014f0"/>
<path d="M604.2,1100.7 L617.8,1100.7 L611.0,1087.7 Z" fill="#f014f0"/>
<path d="M727.2,1136.0 L740.8,1136.0 L734.0,1123.0 Z" fill="#f014f0"/>
<path d="M850.2,1102.8 L863.8,1102.8 L857.0,1089.8 Z" fill="#f014f0"/>
<path d="M973.3,1081.0 L986.9,1081.0 L980.1,1068.0 Z" fill="#f014f0"/>
<rect x="235.3" y="1142.4" width="13.2" height="13.2" fill="#000000"/>
<rect x="358.3" y="1139.4" width="13.2" height="13.2" fill="#000000"/>
<rect x="481.4" y="1175.0" width="13.2" height="13.2" fill="#000000"/>
<rect x="604.4" y="1133.8" width="13.2" height="13.2" fill="#000000"/>
<rect x="727.4" y="1156.0" width="13.2" height="13.2" fill="#000000"/>
<rect x="850.4" y="1130.9" width="13.2" height="13.2" fill="#000000"/>
<rect x="973.5" y="1136.4" width="13.2" height="13.2" fill="#000000"/>
<circle cx="241.9" cy="1108.3" r="6.8" fill="#1414f0"/>
<circle cx="364.9" cy="1092.2" r="6.8" fill="#1414f0"/>
<circle cx="488.0" cy="1112.7" r="6.8" fill="#1414f0"/>
<circle cx="611.0" cy="1120.3" r="6.8" fill="#1414f0"/>
<circle cx="734.0" cy="1122.4" r="6.8" fill="#1414f0"/>
<circle cx="857.0" cy="1137.5" r="6.8" fill="#1414f0"/>
<circle cx="980.1" cy="1109.1" r="6.8" fill="#1414f0"/>
<path d="M241.9,1108.9V1138.8" stroke="#f01414" stroke-width="2"/>
<path d="M234.5,1108.9h14.8M234.5,1138.8h14.8" stroke="#f01414" stroke-width="3.6" stroke-linecap="round"/>
<path d="M364.9,1117.3V1135.6" stroke="#f01414" stroke-width="2"/>
<path d="M357.5,1117.3h14.8M357.5,1135.6h14.8" stroke="#f01414" stroke-width="3.6" stroke-linecap="round"/>
<path d="M488.0,1146.0V1162.5" stroke="#f01414" stroke-width="2"/>
<path d="M480.6,1146.0h14.8M480.6,1162.5h14.8" stroke="#f01414" stroke-width="3.6" stroke-linecap="round"/>
<path d="M611.0,1100.2V1137.4" stroke="#f01414" stroke-width="2"/>
<path d="M603.6,1100.2h14.8M603.6,1137.4h14.8" stroke="#f01414" stroke-width="3.6" stroke-linecap="round"/>
<path d="M734.0,1086.6V1108.0" stroke="#f01414" stroke-width="2"/>
<path d="M726.6,1086.6h14.8M726.6,1108.0h14.8" stroke="#f01414" stroke-width="3.6" stroke-linecap="round"/>
<path d="M857.0,1106.3V1145.0" stroke="#f01414" stroke-width="2"/>
<path d="M849.6,1106.3h14.8M849.6,1145.0h14.8" stroke="#f01414" stroke-width="3.6" stroke-linecap="round"/>
<path d="M980.1,1059.6V1126.4" stroke="#f01414" stroke-width="2"/>
<path d="M972.7,1059.6h14.8M972.7,1126.4h14.8" stroke="#f01414" stroke-width="3.6" stroke-linecap="round"/>
<path d="M241.9,1114.7V1146.9" stroke="#f014f0" stroke-width="2"/>
<path d="M234.5,1114.7h14.8M234.5,1146.9h14.8" stroke="#f014f0" stroke-width="2.0"/>
<path d="M364.9,1081.1V1162.1" stroke="#f014f0" stroke-width="2"/>
<path d="M357.5,1081.1h14.8M357.5,1162.1h14.8" stroke="#f014f0" stroke-width="2.0"/>
<path d="M488.0,1107.8V1158.1" stroke="#f014f0" stroke-width="2"/>
<path d="M480.6,1107.8h14.8M480.6,1158.1h14.8" stroke="#f014f0" stroke-width="2.0"/>
<path d="M611.0,1080.7V1106.2" stroke="#f014f0" stroke-width="2"/>
<path d="M603.6,1080.7h14.8M603.6,1106.2h14.8" stroke="#f014f0" stroke-width="2.0"/>
<path d="M734.0,1093.3V1135.5" stroke="#f014f0" stroke-width="2"/>
<path d="M726.6,1093.3h14.8M726.6,1135.5h14.8" stroke="#f014f0" stroke-width="2.0"/>
<path d="M857.0,1086.8V1104.3" stroke="#f014f0" stroke-width="2"/>
<path d="M849.6,1086.8h14.8M849.6,1104.3h14.8" stroke="#f014f0" stroke-width="2.0"/>
<path d="M980.1,1054.4V1089.5" stroke="#f014f0" stroke-width="2"/>
<path d="M972.7,1054.4h14.8M972.7,1089.5h14.8" stroke="#f014f0" stroke-width="2.0"/>
<path d="M241.9,1112.7V1142.4" stroke="#138c13" stroke-width="2"/>
<path d="M234.5,1112.7h14.8M234.5,1142.4h14.8" stroke="#138c13" stroke-width="2.0"/>
<path d="M364.9,1069.4V1157.9" stroke="#138c13" stroke-width="2"/>
<path d="M357.5,1069.4h14.8M357.5,1157.9h14.8" stroke="#138c13" stroke-width="2.0"/>
<path d="M488.0,1177.6V1200.7" stroke="#138c13" stroke-width="2"/>
<path d="M480.6,1177.6h14.8M480.6,1200.7h14.8" stroke="#138c13" stroke-width="2.0"/>
<path d="M611.0,1092.2V1145.4" stroke="#138c13" stroke-width="2"/>
<path d="M603.6,1092.2h14.8M603.6,1145.4h14.8" stroke="#138c13" stroke-width="2.0"/>
<path d="M734.0,1077.2V1158.0" stroke="#138c13" stroke-width="2"/>
<path d="M726.6,1077.2h14.8M726.6,1158.0h14.8" stroke="#138c13" stroke-width="2.0"/>
<path d="M857.0,1104.0V1130.0" stroke="#138c13" stroke-width="2"/>
<path d="M849.6,1104.0h14.8M849.6,1130.0h14.8" stroke="#138c13" stroke-width="2.0"/>
<path d="M980.1,1089.5V1120.1" stroke="#138c13" stroke-width="2"/>
<path d="M972.7,1089.5h14.8M972.7,1120.1h14.8" stroke="#138c13" stroke-width="2.0"/>
<path d="M241.9,1139.4V1158.9" stroke="#000000" stroke-width="2"/>
<path d="M234.5,1139.4h14.8M234.5,1158.9h14.8" stroke="#000000" stroke-width="2.2"/>
<path d="M364.9,1094.0V1198.3" stroke="#000000" stroke-width="2"/>
<path d="M357.5,1094.0h14.8M357.5,1198.3h14.8" stroke="#000000" stroke-width="2.2"/>
<path d="M488.0,1163.0V1200.7" stroke="#000000" stroke-width="2"/>
<path d="M480.6,1163.0h14.8M480.6,1200.7h14.8" stroke="#000000" stroke-width="2.2"/>
<path d="M611.0,1129.4V1149.5" stroke="#000000" stroke-width="2"/>
<path d="M603.6,1129.4h14.8M603.6,1149.5h14.8" stroke="#000000" stroke-width="2.2"/>
<path d="M734.0,1128.5V1197.8" stroke="#000000" stroke-width="2"/>
<path d="M726.6,1128.5h14.8M726.6,1197.8h14.8" stroke="#000000" stroke-width="2.2"/>
<path d="M857.0,1104.7V1171.7" stroke="#000000" stroke-width="2"/>
<path d="M849.6,1104.7h14.8M849.6,1171.7h14.8" stroke="#000000" stroke-width="2.2"/>
<path d="M980.1,1130.4V1155.1" stroke="#000000" stroke-width="2"/>
<path d="M972.7,1130.4h14.8M972.7,1155.1h14.8" stroke="#000000" stroke-width="2.2"/>
<path d="M241.9,1097.6V1122.7" stroke="#1414f0" stroke-width="2"/>
<path d="M234.5,1097.6h14.8M234.5,1122.7h14.8" stroke="#1414f0" stroke-width="2.0"/>
<path d="M364.9,1061.6V1122.7" stroke="#1414f0" stroke-width="2"/>
<path d="M357.5,1061.6h14.8M357.5,1122.7h14.8" stroke="#1414f0" stroke-width="2.0"/>
<path d="M488.0,1090.6V1134.8" stroke="#1414f0" stroke-width="2"/>
<path d="M480.6,1090.6h14.8M480.6,1134.8h14.8" stroke="#1414f0" stroke-width="2.0"/>
<path d="M611.0,1106.2V1134.8" stroke="#1414f0" stroke-width="2"/>
<path d="M603.6,1106.2h14.8M603.6,1134.8h14.8" stroke="#1414f0" stroke-width="2.0"/>
<path d="M734.0,1109.4V1128.5" stroke="#1414f0" stroke-width="2"/>
<path d="M726.6,1109.4h14.8M726.6,1128.5h14.8" stroke="#1414f0" stroke-width="2.0"/>
<path d="M857.0,1120.4V1153.6" stroke="#1414f0" stroke-width="2"/>
<path d="M849.6,1120.4h14.8M849.6,1153.6h14.8" stroke="#1414f0" stroke-width="2.0"/>
<path d="M980.1,1092.6V1122.5" stroke="#1414f0" stroke-width="2"/>
<path d="M972.7,1092.6h14.8M972.7,1122.5h14.8" stroke="#1414f0" stroke-width="2.0"/>
<path d="M366.50,1208.90L367.50,1202.90A2.0,2.0 0 1 0 363.50,1202.90L364.50,1208.90ZM364.50,1208.90L363.50,1214.90A2.0,2.0 0 1 0 367.50,1214.90L366.50,1208.90ZM365.92,1209.81L371.78,1208.18A2.0,2.0 0 1 0 370.09,1204.55L365.08,1207.99ZM365.92,1207.99L360.91,1204.55A2.0,2.0 0 1 0 359.22,1208.18L365.08,1209.81ZM365.08,1209.81L370.09,1213.25A2.0,2.0 0 1 0 371.78,1209.62L365.92,1207.99ZM365.08,1207.99L359.22,1209.62A2.0,2.0 0 1 0 360.91,1213.25L365.92,1209.81Z" fill="#000"/>
<path d="M489.80,1213.30L490.80,1207.30A2.0,2.0 0 1 0 486.80,1207.30L487.80,1213.30ZM487.80,1213.30L486.80,1219.30A2.0,2.0 0 1 0 490.80,1219.30L489.80,1213.30ZM489.22,1214.21L495.08,1212.58A2.0,2.0 0 1 0 493.39,1208.95L488.38,1212.39ZM489.22,1212.39L484.21,1208.95A2.0,2.0 0 1 0 482.52,1212.58L488.38,1214.21ZM488.38,1214.21L493.39,1217.65A2.0,2.0 0 1 0 495.08,1214.02L489.22,1212.39ZM488.38,1212.39L482.52,1214.02A2.0,2.0 0 1 0 484.21,1217.65L489.22,1214.21Z" fill="#000"/>
<path d="M492.80,1238.00L493.80,1232.00A2.0,2.0 0 1 0 489.80,1232.00L490.80,1238.00ZM490.80,1238.00L489.80,1244.00A2.0,2.0 0 1 0 493.80,1244.00L492.80,1238.00ZM492.22,1238.91L498.08,1237.28A2.0,2.0 0 1 0 496.39,1233.65L491.38,1237.09ZM492.22,1237.09L487.21,1233.65A2.0,2.0 0 1 0 485.52,1237.28L491.38,1238.91ZM491.38,1238.91L496.39,1242.35A2.0,2.0 0 1 0 498.08,1238.72L492.22,1237.09ZM491.38,1237.09L485.52,1238.72A2.0,2.0 0 1 0 487.21,1242.35L492.22,1238.91Z" fill="#2a902a"/>
<line x1="132.5" y1="1836.8" x2="132.5" y2="2142.7" stroke="#000" stroke-width="3.8"/>
<line x1="121.7" y1="1838.5" x2="132.5" y2="1838.5" stroke="#000" stroke-width="3.6"/>
<text x="79.72" y="1851.10" font-size="40.0" font-weight="bold">60</text>
<line x1="121.7" y1="1939.3" x2="132.5" y2="1939.3" stroke="#000" stroke-width="3.6"/>
<text x="79.72" y="1951.90" font-size="40.0" font-weight="bold">40</text>
<line x1="121.7" y1="2040.2" x2="132.5" y2="2040.2" stroke="#000" stroke-width="3.6"/>
<text x="79.72" y="2052.80" font-size="40.0" font-weight="bold">20</text>
<line x1="121.7" y1="2141.0" x2="132.5" y2="2141.0" stroke="#000" stroke-width="3.6"/>
<text x="99.72" y="2153.60" font-size="40.0" font-weight="bold">0</text>
<line x1="180.6" y1="2189.9" x2="1033.5" y2="2189.9" stroke="#000" stroke-width="3.6"/>
<line x1="241.2" y1="2189.9" x2="241.2" y2="2200.4" stroke="#000" stroke-width="3.2"/>
<text x="231.10" y="2236.90" font-size="40.8" font-weight="bold">4</text>
<line x1="363.1" y1="2189.9" x2="363.1" y2="2200.4" stroke="#000" stroke-width="3.2"/>
<text x="352.92" y="2236.90" font-size="40.8" font-weight="bold">8</text>
<line x1="485.0" y1="2189.9" x2="485.0" y2="2200.4" stroke="#000" stroke-width="3.2"/>
<text x="463.88" y="2236.90" font-size="40.8" font-weight="bold">12</text>
<line x1="607.0" y1="2189.9" x2="607.0" y2="2200.4" stroke="#000" stroke-width="3.2"/>
<text x="585.52" y="2236.90" font-size="40.8" font-weight="bold">16</text>
<line x1="728.9" y1="2189.9" x2="728.9" y2="2200.4" stroke="#000" stroke-width="3.2"/>
<text x="708.40" y="2236.90" font-size="40.8" font-weight="bold">20</text>
<line x1="850.8" y1="2189.9" x2="850.8" y2="2200.4" stroke="#000" stroke-width="3.2"/>
<text x="829.92" y="2236.90" font-size="40.8" font-weight="bold">24</text>
<line x1="972.7" y1="2189.9" x2="972.7" y2="2200.4" stroke="#000" stroke-width="3.2"/>
<text x="952.14" y="2236.90" font-size="40.8" font-weight="bold">28</text>
<text x="434.52" y="2287.20" font-size="40.0" font-weight="bold" textLength="81.32" lengthAdjust="spacingAndGlyphs">Days</text>
<text x="524.73" y="2287.20" font-size="40.0" font-weight="bold" textLength="254.93" lengthAdjust="spacingAndGlyphs">post-inoculation</text>
<text x="563.67" y="1608.80" font-size="38.0" font-weight="bold" textLength="41.16" lengthAdjust="spacingAndGlyphs">(c)</text>
<g transform="translate(62.60,2149.30) rotate(-90)">
<text x="-1.12" y="0.00" font-size="40.5" textLength="145.12" lengthAdjust="spacingAndGlyphs">HCT (%)</text>
</g>
<line x1="376.3" y1="1679.1" x2="415.0" y2="1679.1" stroke="#138c13" stroke-width="1.9"/>
<path d="M388.8,1672.6 L402.4,1672.6 L395.6,1685.6 Z" fill="#138c13"/>
<text x="435.18" y="1695.40" font-size="40.3" textLength="75.47" lengthAdjust="spacingAndGlyphs">PYR</text>
<text x="521.47" y="1695.40" font-size="40.3" textLength="162.05" lengthAdjust="spacingAndGlyphs">125 mg kg</text>
<text x="691.23" y="1680.60" font-size="29" textLength="21.85" lengthAdjust="spacingAndGlyphs">-1</text>
<text x="732.86" y="1695.40" font-size="40.3" textLength="70.59" lengthAdjust="spacingAndGlyphs">(IM)</text>
<line x1="376.3" y1="1715.5" x2="415.0" y2="1715.5" stroke="#f014f0" stroke-width="1.9"/>
<path d="M388.8,1722.0 L402.4,1722.0 L395.6,1709.0 Z" fill="#f014f0"/>
<text x="434.32" y="1731.40" font-size="40.3" textLength="474.69" lengthAdjust="spacingAndGlyphs">Diminazene aceturate 25 mg kg</text>
<text x="917.51" y="1716.60" font-size="29" textLength="22.19" lengthAdjust="spacingAndGlyphs">-1</text>
<line x1="376.3" y1="1753.1" x2="415.0" y2="1753.1" stroke="#000000" stroke-width="1.9"/>
<rect x="389.0" y="1746.5" width="13.2" height="13.2" fill="#000000"/>
<text x="434.84" y="1765.70" font-size="40.3" textLength="232.30" lengthAdjust="spacingAndGlyphs">Positive control</text>
<line x1="376.3" y1="1794.4" x2="415.0" y2="1794.4" stroke="#1414f0" stroke-width="1.9"/>
<circle cx="395.6" cy="1794.4" r="6.8" fill="#1414f0"/>
<text x="433.72" y="1807.20" font-size="40.3" textLength="251.13" lengthAdjust="spacingAndGlyphs">Negative control</text>
<line x1="377.3" y1="1841.6" x2="389.6" y2="1841.6" stroke="#f01414" stroke-width="3.4" stroke-linecap="round"/>
<line x1="400.6" y1="1841.6" x2="406.1" y2="1841.6" stroke="#f01414" stroke-width="3.4" stroke-linecap="round"/>
<line x1="411.5" y1="1841.6" x2="414.5" y2="1841.6" stroke="#f01414" stroke-width="3.4" stroke-linecap="round"/>
<path d="M395.6,1834.7 L401.4,1841.6 L395.6,1848.5 L389.8,1841.6 Z" fill="#f01414"/>
<text x="435.18" y="1857.60" font-size="40.3" textLength="75.47" lengthAdjust="spacingAndGlyphs">PYR</text>
<text x="522.17" y="1857.60" font-size="40.3" textLength="142.05" lengthAdjust="spacingAndGlyphs">85 mg kg</text>
<text x="673.26" y="1842.80" font-size="29" textLength="21.06" lengthAdjust="spacingAndGlyphs">-1</text>
<text x="704.63" y="1857.60" font-size="40.3" textLength="71.95" lengthAdjust="spacingAndGlyphs">(IM)</text>
<text x="781.86" y="1857.60" font-size="40.3" textLength="25.33" lengthAdjust="spacingAndGlyphs">+</text>
<text x="814.09" y="1857.60" font-size="40.3" textLength="55.69" lengthAdjust="spacingAndGlyphs">DA</text>
<text x="881.26" y="1857.60" font-size="40.3" textLength="143.46" lengthAdjust="spacingAndGlyphs">10 mg kg</text>
<text x="1032.63" y="1842.80" font-size="29" textLength="21.85" lengthAdjust="spacingAndGlyphs">-1</text>
<text x="1065.69" y="1857.60" font-size="40.3" textLength="73.31" lengthAdjust="spacingAndGlyphs">(SC)</text>
<polyline points="241.2,1939.9 363.1,1942.0 485.0,1958.5 607.0,1942.3 728.9,1906.6 850.8,1928.4 972.7,1909.1" fill="none" stroke="#f01414" stroke-width="4.0" stroke-linejoin="round" stroke-dasharray="9.4 8.2" stroke-linecap="round"/>
<polyline points="241.2,1966.9 363.1,1968.1 485.0,1988.6 607.0,1951.4 728.9,1965.5 850.8,1950.9 972.7,1968.6" fill="none" stroke="#000000" stroke-width="2.2" stroke-linejoin="round"/>
<polyline points="241.2,1928.3 363.1,1917.2 485.0,1934.7 607.0,1944.3 728.9,1938.4 850.8,1950.9 972.7,1931.6" fill="none" stroke="#1414f0" stroke-width="2.0" stroke-linejoin="round"/>
<polyline points="241.2,1945.9 363.1,1939.3 485.0,1995.6 607.0,1931.9 728.9,1931.4 850.8,1934.0 972.7,1918.5" fill="none" stroke="#138c13" stroke-width="2.0" stroke-linejoin="round"/>
<polyline points="241.2,1950.8 363.1,1940.5 485.0,1940.5 607.0,1918.2 728.9,1940.0 850.8,1923.3 972.7,1903.0" fill="none" stroke="#f014f0" stroke-width="1.7" stroke-linejoin="round"/>
<path d="M234.4,1939.4 L248.0,1939.4 L241.2,1952.4 Z" fill="#138c13"/>
<path d="M356.3,1932.8 L369.9,1932.8 L363.1,1945.8 Z" fill="#138c13"/>
<path d="M478.2,1989.1 L491.8,1989.1 L485.0,2002.1 Z" fill="#138c13"/>
<path d="M600.2,1925.4 L613.8,1925.4 L607.0,1938.4 Z" fill="#138c13"/>
<path d="M722.1,1924.9 L735.7,1924.9 L728.9,1937.9 Z" fill="#138c13"/>
<path d="M844.0,1927.5 L857.6,1927.5 L850.8,1940.5 Z" fill="#138c13"/>
<path d="M965.9,1912.0 L979.5,1912.0 L972.7,1925.0 Z" fill="#138c13"/>
<path d="M241.2,1933.0 L247.0,1939.9 L241.2,1946.8 L235.4,1939.9 Z" fill="#f01414"/>
<path d="M363.1,1935.1 L368.9,1942.0 L363.1,1948.9 L357.3,1942.0 Z" fill="#f01414"/>
<path d="M485.0,1951.6 L490.8,1958.5 L485.0,1965.4 L479.2,1958.5 Z" fill="#f01414"/>
<path d="M607.0,1935.4 L612.8,1942.3 L607.0,1949.2 L601.2,1942.3 Z" fill="#f01414"/>
<path d="M728.9,1899.7 L734.7,1906.6 L728.9,1913.5 L723.1,1906.6 Z" fill="#f01414"/>
<path d="M850.8,1921.5 L856.6,1928.4 L850.8,1935.3 L845.0,1928.4 Z" fill="#f01414"/>
<path d="M972.7,1902.2 L978.5,1909.1 L972.7,1916.0 L966.9,1909.1 Z" fill="#f01414"/>
<path d="M234.4,1957.3 L248.0,1957.3 L241.2,1944.3 Z" fill="#f014f0"/>
<path d="M356.3,1947.0 L369.9,1947.0 L363.1,1934.0 Z" fill="#f014f0"/>
<path d="M478.2,1947.0 L491.8,1947.0 L485.0,1934.0 Z" fill="#f014f0"/>
<path d="M600.2,1924.7 L613.8,1924.7 L607.0,1911.7 Z" fill="#f014f0"/>
<path d="M722.1,1946.5 L735.7,1946.5 L728.9,1933.5 Z" fill="#f014f0"/>
<path d="M844.0,1929.8 L857.6,1929.8 L850.8,1916.8 Z" fill="#f014f0"/>
<path d="M965.9,1909.5 L979.5,1909.5 L972.7,1896.5 Z" fill="#f014f0"/>
<rect x="234.6" y="1960.3" width="13.2" height="13.2" fill="#000000"/>
<rect x="356.5" y="1961.5" width="13.2" height="13.2" fill="#000000"/>
<rect x="478.4" y="1982.0" width="13.2" height="13.2" fill="#000000"/>
<rect x="600.4" y="1944.8" width="13.2" height="13.2" fill="#000000"/>
<rect x="722.3" y="1958.9" width="13.2" height="13.2" fill="#000000"/>
<rect x="844.2" y="1944.3" width="13.2" height="13.2" fill="#000000"/>
<rect x="966.1" y="1962.0" width="13.2" height="13.2" fill="#000000"/>
<circle cx="241.2" cy="1928.3" r="6.8" fill="#1414f0"/>
<circle cx="363.1" cy="1917.2" r="6.8" fill="#1414f0"/>
<circle cx="485.0" cy="1934.7" r="6.8" fill="#1414f0"/>
<circle cx="607.0" cy="1944.3" r="6.8" fill="#1414f0"/>
<circle cx="728.9" cy="1938.4" r="6.8" fill="#1414f0"/>
<circle cx="850.8" cy="1950.9" r="6.8" fill="#1414f0"/>
<circle cx="972.7" cy="1931.6" r="6.8" fill="#1414f0"/>
<path d="M241.2,1926.2V1954.4" stroke="#f01414" stroke-width="2"/>
<path d="M233.8,1926.2h14.8M233.8,1954.4h14.8" stroke="#f01414" stroke-width="3.6" stroke-linecap="round"/>
<path d="M363.1,1933.3V1951.4" stroke="#f01414" stroke-width="2"/>
<path d="M355.7,1933.3h14.8M355.7,1951.4h14.8" stroke="#f01414" stroke-width="3.6" stroke-linecap="round"/>
<path d="M485.0,1952.8V1964.8" stroke="#f01414" stroke-width="2"/>
<path d="M477.6,1952.8h14.8M477.6,1964.8h14.8" stroke="#f01414" stroke-width="3.6" stroke-linecap="round"/>
<path d="M607.0,1917.2V1966.4" stroke="#f01414" stroke-width="2"/>
<path d="M599.6,1917.2h14.8M599.6,1966.4h14.8" stroke="#f01414" stroke-width="3.6" stroke-linecap="round"/>
<path d="M728.9,1891.2V1922.7" stroke="#f01414" stroke-width="2"/>
<path d="M721.5,1891.2h14.8M721.5,1922.7h14.8" stroke="#f01414" stroke-width="3.6" stroke-linecap="round"/>
<path d="M850.8,1899.2V1962.5" stroke="#f01414" stroke-width="2"/>
<path d="M843.4,1899.2h14.8M843.4,1962.5h14.8" stroke="#f01414" stroke-width="3.6" stroke-linecap="round"/>
<path d="M972.7,1880.1V1935.8" stroke="#f01414" stroke-width="2"/>
<path d="M965.3,1880.1h14.8M965.3,1935.8h14.8" stroke="#f01414" stroke-width="3.6" stroke-linecap="round"/>
<path d="M241.2,1935.3V1967.5" stroke="#f014f0" stroke-width="2"/>
<path d="M233.8,1935.3h14.8M233.8,1967.5h14.8" stroke="#f014f0" stroke-width="2.0"/>
<path d="M363.1,1904.7V1974.5" stroke="#f014f0" stroke-width="2"/>
<path d="M355.7,1904.7h14.8M355.7,1974.5h14.8" stroke="#f014f0" stroke-width="2.0"/>
<path d="M485.0,1909.8V1968.5" stroke="#f014f0" stroke-width="2"/>
<path d="M477.6,1909.8h14.8M477.6,1968.5h14.8" stroke="#f014f0" stroke-width="2.0"/>
<path d="M607.0,1910.2V1930.3" stroke="#f014f0" stroke-width="2"/>
<path d="M599.6,1910.2h14.8M599.6,1930.3h14.8" stroke="#f014f0" stroke-width="2.0"/>
<path d="M728.9,1905.0V1975.0" stroke="#f014f0" stroke-width="2"/>
<path d="M721.5,1905.0h14.8M721.5,1975.0h14.8" stroke="#f014f0" stroke-width="2.0"/>
<path d="M850.8,1911.3V1935.0" stroke="#f014f0" stroke-width="2"/>
<path d="M843.4,1911.3h14.8M843.4,1935.0h14.8" stroke="#f014f0" stroke-width="2.0"/>
<path d="M972.7,1883.6V1919.5" stroke="#f014f0" stroke-width="2"/>
<path d="M965.3,1883.6h14.8M965.3,1919.5h14.8" stroke="#f014f0" stroke-width="2.0"/>
<path d="M241.2,1931.3V1959.4" stroke="#138c13" stroke-width="2"/>
<path d="M233.8,1931.3h14.8M233.8,1959.4h14.8" stroke="#138c13" stroke-width="2.0"/>
<path d="M363.1,1897.7V1980.9" stroke="#138c13" stroke-width="2"/>
<path d="M355.7,1897.7h14.8M355.7,1980.9h14.8" stroke="#138c13" stroke-width="2.0"/>
<path d="M485.0,1977.5V2017.1" stroke="#138c13" stroke-width="2"/>
<path d="M477.6,1977.5h14.8M477.6,2017.1h14.8" stroke="#138c13" stroke-width="2.0"/>
<path d="M607.0,1902.5V1961.4" stroke="#138c13" stroke-width="2"/>
<path d="M599.6,1902.5h14.8M599.6,1961.4h14.8" stroke="#138c13" stroke-width="2.0"/>
<path d="M728.9,1892.0V1970.6" stroke="#138c13" stroke-width="2"/>
<path d="M721.5,1892.0h14.8M721.5,1970.6h14.8" stroke="#138c13" stroke-width="2.0"/>
<path d="M850.8,1914.7V1953.0" stroke="#138c13" stroke-width="2"/>
<path d="M843.4,1914.7h14.8M843.4,1953.0h14.8" stroke="#138c13" stroke-width="2.0"/>
<path d="M972.7,1900.6V1935.2" stroke="#138c13" stroke-width="2"/>
<path d="M965.3,1900.6h14.8M965.3,1935.2h14.8" stroke="#138c13" stroke-width="2.0"/>
<path d="M241.2,1957.4V1977.5" stroke="#000000" stroke-width="2"/>
<path d="M233.8,1957.4h14.8M233.8,1977.5h14.8" stroke="#000000" stroke-width="2.2"/>
<path d="M363.1,1918.0V2017.7" stroke="#000000" stroke-width="2"/>
<path d="M355.7,1918.0h14.8M355.7,2017.7h14.8" stroke="#000000" stroke-width="2.2"/>
<path d="M485.0,1970.9V2007.1" stroke="#000000" stroke-width="2"/>
<path d="M477.6,1970.9h14.8M477.6,2007.1h14.8" stroke="#000000" stroke-width="2.2"/>
<path d="M607.0,1946.0V1960.4" stroke="#000000" stroke-width="2"/>
<path d="M599.6,1946.0h14.8M599.6,1960.4h14.8" stroke="#000000" stroke-width="2.2"/>
<path d="M728.9,1936.0V1998.7" stroke="#000000" stroke-width="2"/>
<path d="M721.5,1936.0h14.8M721.5,1998.7h14.8" stroke="#000000" stroke-width="2.2"/>
<path d="M850.8,1920.3V1982.0" stroke="#000000" stroke-width="2"/>
<path d="M843.4,1920.3h14.8M843.4,1982.0h14.8" stroke="#000000" stroke-width="2.2"/>
<path d="M972.7,1953.1V1984.6" stroke="#000000" stroke-width="2"/>
<path d="M965.3,1953.1h14.8M965.3,1984.6h14.8" stroke="#000000" stroke-width="2.2"/>
<path d="M241.2,1917.6V1939.3" stroke="#1414f0" stroke-width="2"/>
<path d="M233.8,1917.6h14.8M233.8,1939.3h14.8" stroke="#1414f0" stroke-width="2.0"/>
<path d="M363.1,1887.0V1947.3" stroke="#1414f0" stroke-width="2"/>
<path d="M355.7,1887.0h14.8M355.7,1947.3h14.8" stroke="#1414f0" stroke-width="2.0"/>
<path d="M485.0,1915.2V1955.4" stroke="#1414f0" stroke-width="2"/>
<path d="M477.6,1915.2h14.8M477.6,1955.4h14.8" stroke="#1414f0" stroke-width="2.0"/>
<path d="M607.0,1930.7V1957.4" stroke="#1414f0" stroke-width="2"/>
<path d="M599.6,1930.7h14.8M599.6,1957.4h14.8" stroke="#1414f0" stroke-width="2.0"/>
<path d="M728.9,1924.7V1950.5" stroke="#1414f0" stroke-width="2"/>
<path d="M721.5,1924.7h14.8M721.5,1950.5h14.8" stroke="#1414f0" stroke-width="2.0"/>
<path d="M850.8,1933.4V1970.6" stroke="#1414f0" stroke-width="2"/>
<path d="M843.4,1933.4h14.8M843.4,1970.6h14.8" stroke="#1414f0" stroke-width="2.0"/>
<path d="M972.7,1917.9V1945.7" stroke="#1414f0" stroke-width="2"/>
<path d="M965.3,1917.9h14.8M965.3,1945.7h14.8" stroke="#1414f0" stroke-width="2.0"/>
<path d="M365.00,2027.40L366.00,2021.40A2.0,2.0 0 1 0 362.00,2021.40L363.00,2027.40ZM363.00,2027.40L362.00,2033.40A2.0,2.0 0 1 0 366.00,2033.40L365.00,2027.40ZM364.42,2028.31L370.28,2026.68A2.0,2.0 0 1 0 368.59,2023.05L363.58,2026.49ZM364.42,2026.49L359.41,2023.05A2.0,2.0 0 1 0 357.72,2026.68L363.58,2028.31ZM363.58,2028.31L368.59,2031.75A2.0,2.0 0 1 0 370.28,2028.12L364.42,2026.49ZM363.58,2026.49L357.72,2028.12A2.0,2.0 0 1 0 359.41,2031.75L364.42,2028.31Z" fill="#000"/>
<path d="M487.50,2027.80L488.50,2021.80A2.0,2.0 0 1 0 484.50,2021.80L485.50,2027.80ZM485.50,2027.80L484.50,2033.80A2.0,2.0 0 1 0 488.50,2033.80L487.50,2027.80ZM486.92,2028.71L492.78,2027.08A2.0,2.0 0 1 0 491.09,2023.45L486.08,2026.89ZM486.92,2026.89L481.91,2023.45A2.0,2.0 0 1 0 480.22,2027.08L486.08,2028.71ZM486.08,2028.71L491.09,2032.15A2.0,2.0 0 1 0 492.78,2028.52L486.92,2026.89ZM486.08,2026.89L480.22,2028.52A2.0,2.0 0 1 0 481.91,2032.15L486.92,2028.71Z" fill="#000"/>
<path d="M488.80,2048.10L489.80,2042.10A2.0,2.0 0 1 0 485.80,2042.10L486.80,2048.10ZM486.80,2048.10L485.80,2054.10A2.0,2.0 0 1 0 489.80,2054.10L488.80,2048.10ZM488.22,2049.01L494.08,2047.38A2.0,2.0 0 1 0 492.39,2043.75L487.38,2047.19ZM488.22,2047.19L483.21,2043.75A2.0,2.0 0 1 0 481.52,2047.38L487.38,2049.01ZM487.38,2049.01L492.39,2052.45A2.0,2.0 0 1 0 494.08,2048.82L488.22,2047.19ZM487.38,2047.19L481.52,2048.82A2.0,2.0 0 1 0 483.21,2052.45L488.22,2049.01Z" fill="#2a902a"/>
</svg></body></html>
